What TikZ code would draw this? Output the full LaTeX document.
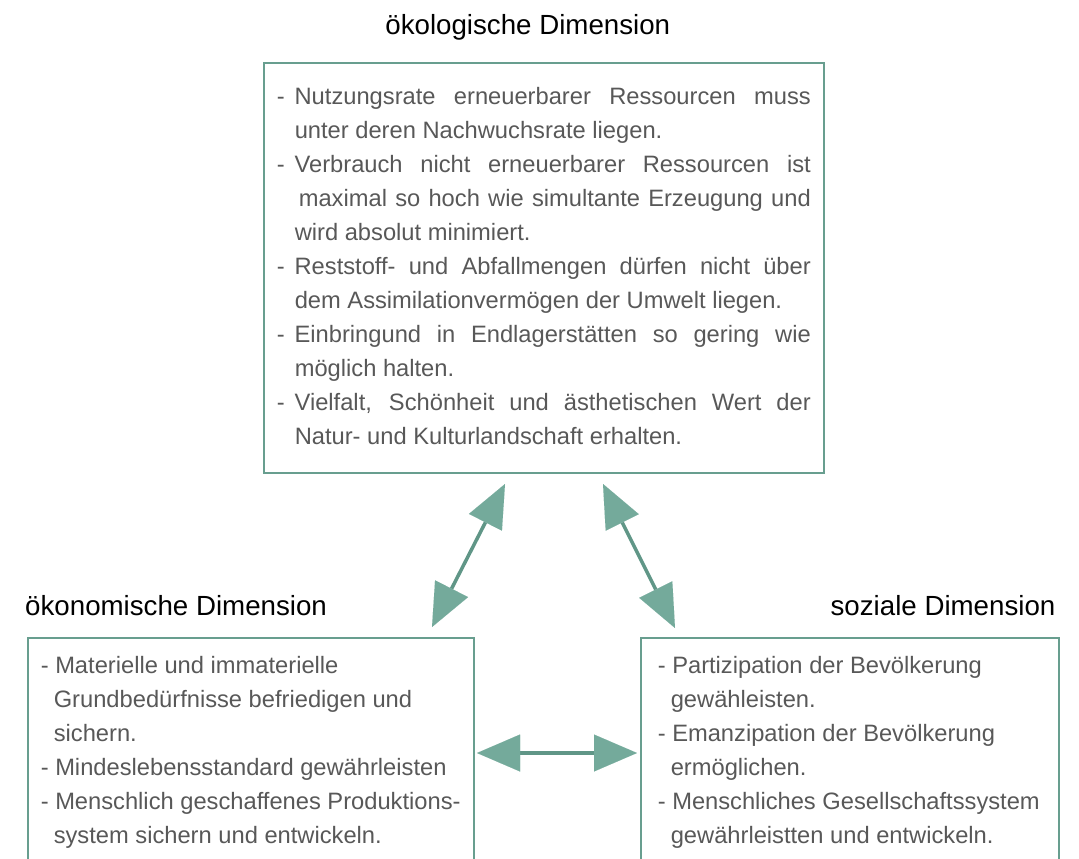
\documentclass[tikz,border=0pt]{standalone}
\usepackage{fontspec}
\setmainfont{Liberation Sans}
\usetikzlibrary{positioning, arrows.meta}
\definecolor{dimgreen}{RGB}{104,158,143}
\definecolor{dimarrow}{RGB}{116,170,155}
\definecolor{dimline}{RGB}{96,150,135}
\definecolor{bodygray}{RGB}{88,88,88}
\newcommand{\dimfont}{\fontsize{23.7}{34}\selectfont}
\newcommand{\fline}[1]{\makebox[\linewidth][s]{-\hspace{0.42em}#1}}

\begin{document}
\begin{tikzpicture}[x=1pt, y=-1pt,
    dimbox/.style={draw=dimgreen, line width=1.6pt, inner sep=0pt, anchor=north west,
      text=bodygray, font=\dimfont},
    dimtitle/.style={inner sep=0pt, font=\fontsize{27.7}{32}\selectfont, text=black},
    twoway/.style={draw=dimline, line width=3.5pt, {Triangle[length=43pt, width=37pt, line width=0.01pt, color=dimarrow]}-{Triangle[length=43pt, width=37pt, line width=0.01pt, color=dimarrow]}},
  ]
    \clip (0,0) rectangle (1079,859);

    % boxes
    \node[dimbox, minimum width=560pt, minimum height=410pt] (oeko) at (263,62) {%
      \begin{minipage}{534pt}\dimfont\parindent=0pt
        \strut\fline{Nutzungsrate erneuerbarer Ressourcen muss}\\
        \hspace*{18pt}unter deren Nachwuchsrate liegen.\\
        \fline{Verbrauch nicht erneuerbarer Ressourcen ist}\\
        \hspace*{22pt}\makebox[\dimexpr\linewidth-22pt][s]{maximal so hoch wie simultante Erzeugung und}\\
        \hspace*{18pt}wird absolut minimiert.\\
        \fline{Reststoff- und Abfallmengen dürfen nicht über}\\
        \hspace*{18pt}dem Assimilationvermögen der Umwelt liegen.\\
        \fline{Einbringund in Endlagerstätten so gering wie}\\
        \hspace*{18pt}möglich halten.\\
        \fline{Vielfalt, Schönheit und ästhetischen Wert der}\\
        \hspace*{18pt}Natur- und Kulturlandschaft erhalten.\strut
      \end{minipage}};
    \node[dimbox, inner xsep=10pt, inner ysep=12pt, minimum width=446pt] (oekon) at (27,637) {%
      \begin{minipage}[t][250pt][t]{420pt}\dimfont\parindent=0pt
        \strut- Materielle und immaterielle\\
        \hspace*{13pt}Grundbedürfnisse befriedigen und\\
        \hspace*{13pt}sichern.\\
        - Mindeslebensstandard gewährleisten\\
        - Menschlich geschaffenes Produktions-\\
        \hspace*{13pt}system sichern und entwickeln.
      \end{minipage}};
    \node[dimbox, inner xsep=17pt, inner ysep=12pt, minimum width=418pt] (sozial) at (640,637) {%
      \begin{minipage}[t][250pt][t]{384pt}\dimfont\parindent=0pt
        \strut- Partizipation der Bevölkerung\\
        \hspace*{13pt}gewähleisten.\\
        - Emanzipation der Bevölkerung\\
        \hspace*{13pt}ermöglichen.\\
        - Menschliches Gesellschaftssystem\\
        \hspace*{13pt}gewährleistten und entwickeln.
      \end{minipage}};

    % titles
    \node[dimtitle, above=27pt of oeko.north, xshift=-16pt, anchor=base] (t-oeko) {ökologische Dimension};
    \node[dimtitle, above right=22pt and -2pt of oekon.north west, anchor=base west] (t-oekon) {ökonomische Dimension};
    \node[dimtitle, above left=22pt and 4pt of sozial.north east, anchor=base east] (t-sozial) {soziale Dimension};

    % arrows
    \coordinate (oeko-l) at (505,484);
    \coordinate (oekon-t) at (432,627);
    \coordinate (oeko-r) at (603,484);
    \coordinate (sozial-t) at (675,628);
    \coordinate (oekon-r) at (477,753);
    \coordinate (sozial-l) at (637,753);
    \draw[twoway] (oeko-l) -- (oekon-t);
    \draw[twoway] (oeko-r) -- (sozial-t);
    \draw[twoway] (oekon-r) -- (sozial-l);
  \end{tikzpicture}
\end{document}
